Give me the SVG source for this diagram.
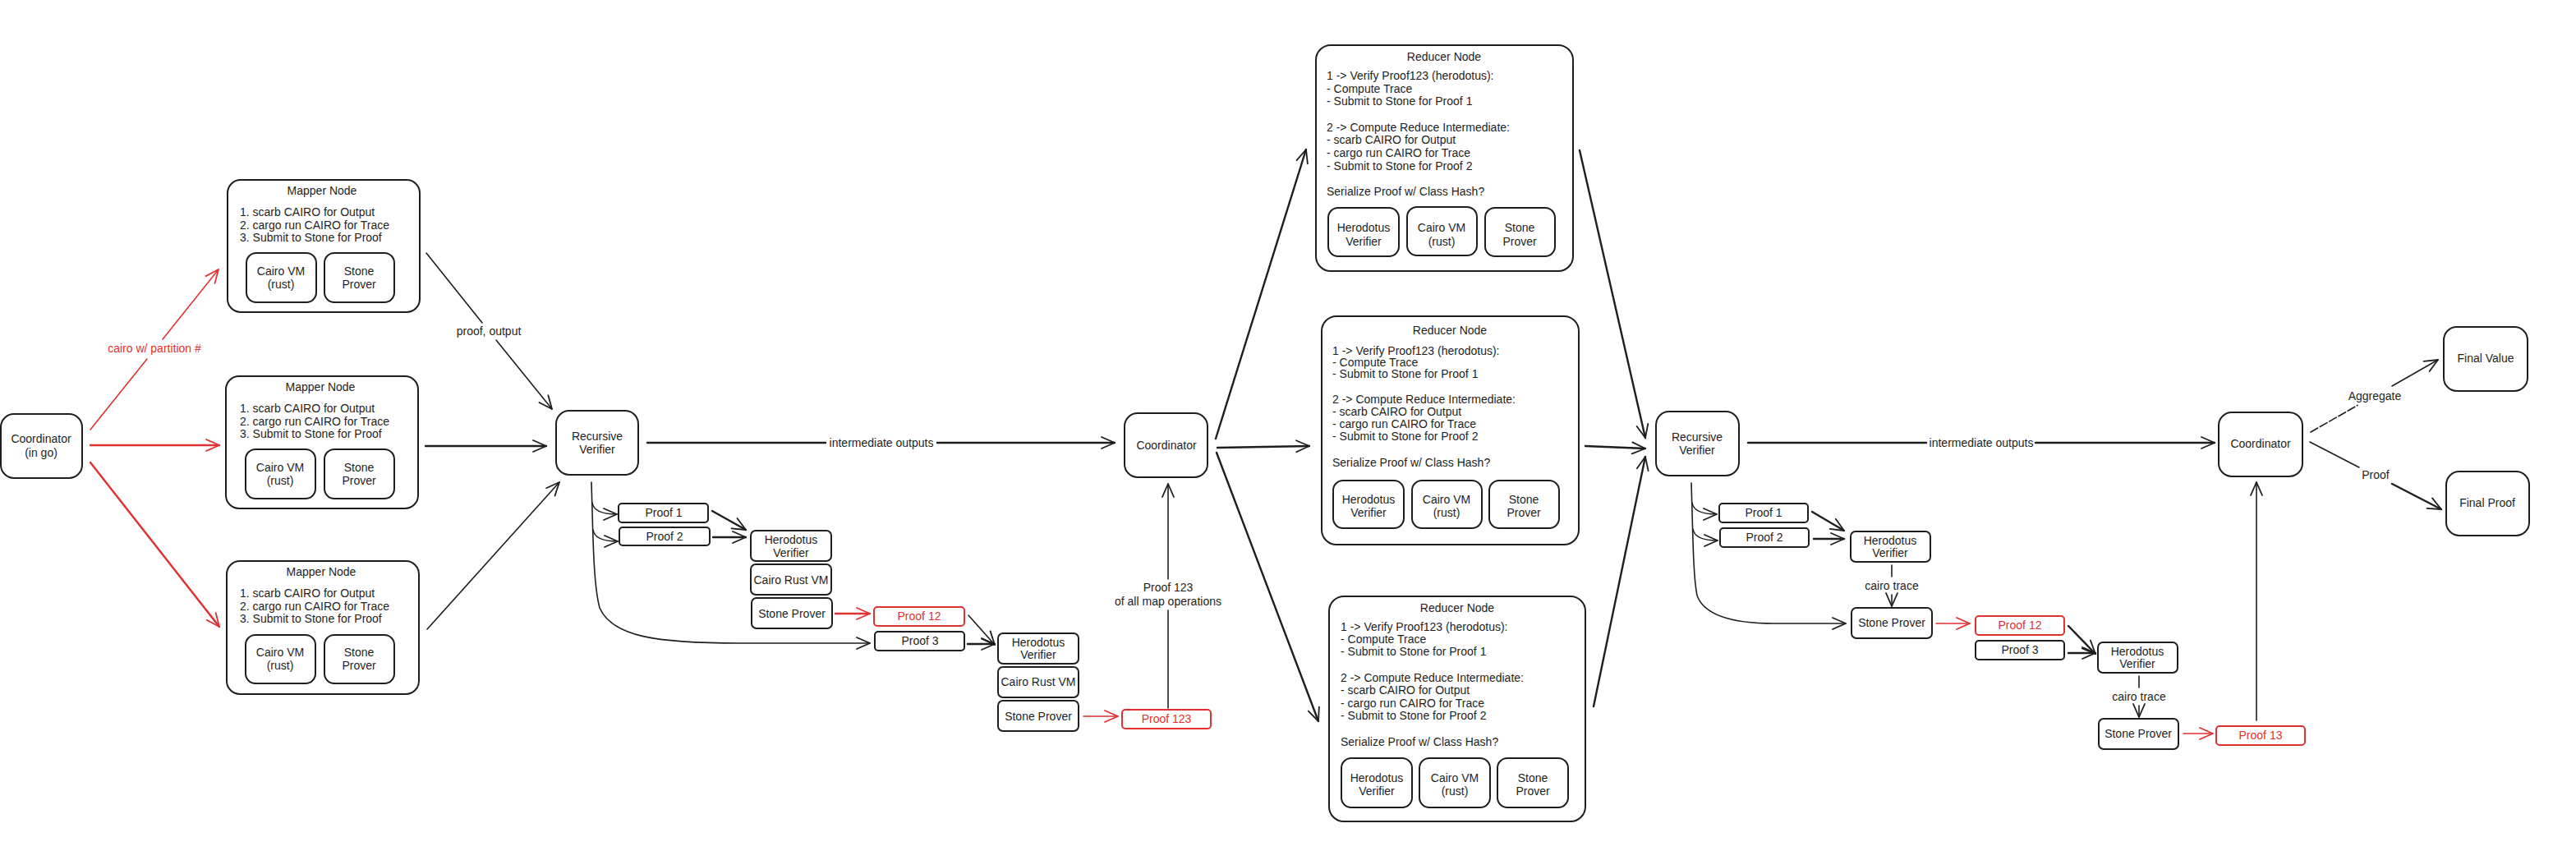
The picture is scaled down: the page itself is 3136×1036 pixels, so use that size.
<svg xmlns="http://www.w3.org/2000/svg" width="3136" height="1036" viewBox="0 0 3136 1036">
<defs>
<style>
.bg{fill:#ffffff}
.box{fill:#ffffff;stroke:#1e1e1e;stroke-width:2}
.rbox{fill:#ffffff;stroke:#e03131;stroke-width:2}
text{font-family:"Liberation Sans","DejaVu Sans",sans-serif;font-size:14px;fill:#1e1e1e;dominant-baseline:central}
.c{text-anchor:middle}
.tr{fill:#e03131}
.ln{fill:none;stroke:#1e1e1e;stroke-width:1.6;stroke-linecap:round}
.lnb{fill:none;stroke:#1e1e1e;stroke-width:2.4;stroke-linecap:round}
.lr{fill:none;stroke:#e03131;stroke-width:1.6;stroke-linecap:round}
.lrb{fill:none;stroke:#e03131;stroke-width:2.4;stroke-linecap:round}
</style>
<marker id="ah" viewBox="0 0 20 20" refX="18" refY="10" markerWidth="20" markerHeight="20" markerUnits="userSpaceOnUse" orient="auto">
<path d="M2,3 L18,10 L2,17" fill="none" stroke="#1e1e1e" stroke-width="1.8" stroke-linecap="round" stroke-linejoin="round"/>
</marker>
<marker id="ahr" viewBox="0 0 20 20" refX="18" refY="10" markerWidth="20" markerHeight="20" markerUnits="userSpaceOnUse" orient="auto">
<path d="M2,3 L18,10 L2,17" fill="none" stroke="#e03131" stroke-width="1.8" stroke-linecap="round" stroke-linejoin="round"/>
</marker>
</defs>
<rect class="bg" x="0" y="0" width="3136" height="1036"/>

<g id="connectors">
<path class="lr" d="M110,523 L179,437"/>
<path class="lr" d="M198,413 L266,328" marker-end="url(#ahr)"/>
<text class="c tr" x="188" y="424">cairo w/ partition #</text>
<path class="lrb" d="M110,542 L267,542" marker-end="url(#ahr)"/>
<path class="lrb" d="M110,563 L267,763" marker-end="url(#ahr)"/>
<path class="ln" d="M519,308 L587,393"/>
<path class="ln" d="M604,414 L672,498" marker-end="url(#ah)"/>
<text class="c" x="595" y="403">proof, output</text>
<path class="lnb" d="M518,543 L665,543" marker-end="url(#ah)"/>
<path class="ln" d="M520,766 L681,587" marker-end="url(#ah)"/>
<path class="lnb" d="M788,539 L1005,539"/>
<path class="lnb" d="M1141,539 L1357,539" marker-end="url(#ah)"/>
<text class="c" x="1073" y="539">intermediate outputs</text>
<path class="ln" d="M720,587 C722,650 722,710 730,740 C745,775 800,783 900,783 L1059,783" marker-end="url(#ah)"/>
<path class="ln" d="M721,612 Q723,626 751,626" marker-end="url(#ah)"/>
<path class="ln" d="M722,645 Q724,659 752,659" marker-end="url(#ah)"/>
<path class="lnb" d="M867,622 L908,645" marker-end="url(#ah)"/>
<path class="lnb" d="M868,654 L908,654" marker-end="url(#ah)"/>
<path class="lrb" d="M1017,747 L1059,747" marker-end="url(#ahr)"/>
<path class="ln" d="M1179,749 L1211,785" marker-end="url(#ah)"/>
<path class="lnb" d="M1178,784 L1211,784" marker-end="url(#ah)"/>
<path class="lr" d="M1319,872 L1361,872" marker-end="url(#ahr)"/>
<path class="ln" d="M1422,862 L1422,743"/>
<path class="ln" d="M1422,705 L1422,589" marker-end="url(#ah)"/>
<text class="c" x="1422" y="715">Proof 123</text>
<text class="c" x="1422" y="732">of all map operations</text>
<path class="lnb" d="M1480,534 L1590,182" marker-end="url(#ah)"/>
<path class="lnb" d="M1482,545 L1594,543" marker-end="url(#ah)"/>
<path class="lnb" d="M1481,551 L1605,878" marker-end="url(#ah)"/>
<path class="lnb" d="M1923,183 L2003,533" marker-end="url(#ah)"/>
<path class="lnb" d="M1930,543 L2003,546" marker-end="url(#ah)"/>
<path class="lnb" d="M1940,860 L2003,556" marker-end="url(#ah)"/>
<path class="lnb" d="M2128,539 L2345,539"/>
<path class="lnb" d="M2478,539 L2696,539" marker-end="url(#ah)"/>
<text class="c" x="2412" y="539">intermediate outputs</text>
<path class="ln" d="M2059,588 C2061,650 2061,700 2066,725 C2075,750 2110,759 2160,759 L2247,759" marker-end="url(#ah)"/>
<path class="ln" d="M2060,612 Q2062,626 2090,626" marker-end="url(#ah)"/>
<path class="ln" d="M2061,644 Q2063,658 2091,658" marker-end="url(#ah)"/>
<path class="lnb" d="M2206,623 L2245,646" marker-end="url(#ah)"/>
<path class="lnb" d="M2208,656 L2245,656" marker-end="url(#ah)"/>
<path class="ln" d="M2303,688 L2303,702"/>
<path class="ln" d="M2303,724 L2303,738" marker-end="url(#ah)"/>
<text class="c" x="2303" y="713">cairo trace</text>
<path class="lr" d="M2357,759 L2398,759" marker-end="url(#ahr)"/>
<path class="lnb" d="M2518,762 L2551,796" marker-end="url(#ah)"/>
<path class="lnb" d="M2518,795 L2551,795" marker-end="url(#ah)"/>
<path class="ln" d="M2604,823 L2604,837"/>
<path class="ln" d="M2604,859 L2604,873" marker-end="url(#ah)"/>
<text class="c" x="2604" y="848">cairo trace</text>
<path class="lr" d="M2658,893 L2694,893" marker-end="url(#ahr)"/>
<path class="ln" d="M2747,877 L2747,587" marker-end="url(#ah)"/>
<path class="ln" d="M2813,526 L2870,493.5" stroke-dasharray="10 3"/>
<path class="ln" d="M2912,470 L2968,438" marker-end="url(#ah)"/>
<text class="c" x="2891" y="482">Aggregate</text>
<path class="ln" d="M2812,538 L2872,569"/>
<path class="lnb" d="M2912,589 L2972,620" marker-end="url(#ah)"/>
<text class="c" x="2892" y="578">Proof</text>
</g>

<g id="coordinator-1">
<rect class="box" x="1" y="504" width="99" height="78" rx="16"/>
<text class="c" x="50" y="534">Coordinator</text>
<text class="c" x="50" y="551">(in go)</text>
</g>

<g id="mapper-1">
<rect class="box" x="277" y="219" width="234" height="161" rx="16"/>
<text class="c" x="392" y="232">Mapper Node</text>
<text x="292" y="258">1. scarb CAIRO for Output</text>
<text x="292" y="274">2. cargo run CAIRO for Trace</text>
<text x="292" y="289">3. Submit to Stone for Proof</text>
<rect class="box" x="300" y="308" width="85" height="60" rx="12"/>
<text class="c" x="342" y="330">Cairo VM</text>
<text class="c" x="342" y="346">(rust)</text>
<rect class="box" x="395" y="308" width="85" height="60" rx="12"/>
<text class="c" x="437" y="330">Stone</text>
<text class="c" x="437" y="346">Prover</text>
</g>

<g id="mapper-2">
<rect class="box" x="275" y="458" width="234" height="161" rx="16"/>
<text class="c" x="390" y="471">Mapper Node</text>
<text x="292" y="497">1. scarb CAIRO for Output</text>
<text x="292" y="513">2. cargo run CAIRO for Trace</text>
<text x="292" y="528">3. Submit to Stone for Proof</text>
<rect class="box" x="299" y="547" width="85" height="60" rx="12"/>
<text class="c" x="341" y="569">Cairo VM</text>
<text class="c" x="341" y="585">(rust)</text>
<rect class="box" x="395" y="547" width="85" height="60" rx="12"/>
<text class="c" x="437" y="569">Stone</text>
<text class="c" x="437" y="585">Prover</text>
</g>

<g id="mapper-3">
<rect class="box" x="276" y="683" width="234" height="162" rx="16"/>
<text class="c" x="391" y="696">Mapper Node</text>
<text x="292" y="722">1. scarb CAIRO for Output</text>
<text x="292" y="738">2. cargo run CAIRO for Trace</text>
<text x="292" y="753">3. Submit to Stone for Proof</text>
<rect class="box" x="299" y="773" width="85" height="59" rx="12"/>
<text class="c" x="341" y="794">Cairo VM</text>
<text class="c" x="341" y="810">(rust)</text>
<rect class="box" x="395" y="773" width="85" height="59" rx="12"/>
<text class="c" x="437" y="794">Stone</text>
<text class="c" x="437" y="810">Prover</text>
</g>

<g id="recursive-verifier-1">
<rect class="box" x="677" y="500" width="100" height="78" rx="16"/>
<text class="c" x="727" y="531">Recursive</text>
<text class="c" x="727" y="547">Verifier</text>
</g>

<g id="proof1-a"><rect class="box" x="753" y="613" width="109" height="23" rx="4"/><text class="c" x="808" y="624">Proof 1</text></g>
<g id="proof2-a"><rect class="box" x="754" y="642" width="110" height="22" rx="4"/><text class="c" x="809" y="653">Proof 2</text></g>
<g id="herodotus-a"><rect class="box" x="914" y="646" width="98" height="37" rx="6"/><text class="c" x="963" y="657">Herodotus</text><text class="c" x="963" y="673">Verifier</text></g>
<g id="cairo-rust-vm-a"><rect class="box" x="914" y="687" width="98" height="37" rx="6"/><text class="c" x="963" y="706">Cairo Rust VM</text></g>
<g id="stone-prover-a"><rect class="box" x="915" y="728" width="98" height="37" rx="6"/><text class="c" x="964" y="747">Stone Prover</text></g>
<g id="proof12-a"><rect class="rbox" x="1064" y="739" width="110" height="23" rx="4"/><text class="c tr" x="1119" y="750">Proof 12</text></g>
<g id="proof3-a"><rect class="box" x="1065" y="769" width="109" height="23" rx="4"/><text class="c" x="1120" y="780">Proof 3</text></g>
<g id="herodotus-b"><rect class="box" x="1215" y="771" width="98" height="37" rx="6"/><text class="c" x="1264" y="782">Herodotus</text><text class="c" x="1264" y="797">Verifier</text></g>
<g id="cairo-rust-vm-b"><rect class="box" x="1215" y="812" width="98" height="37" rx="6"/><text class="c" x="1264" y="830">Cairo Rust VM</text></g>
<g id="stone-prover-b"><rect class="box" x="1215" y="853" width="98" height="37" rx="6"/><text class="c" x="1264" y="872">Stone Prover</text></g>
<g id="proof123"><rect class="rbox" x="1366" y="864" width="108" height="23" rx="4"/><text class="c tr" x="1420" y="875">Proof 123</text></g>

<g id="coordinator-2">
<rect class="box" x="1369" y="503" width="101" height="78" rx="16"/>
<text class="c" x="1420" y="542">Coordinator</text>
</g>

<g id="reducer-1">
<rect class="box" x="1602" y="55" width="313" height="275" rx="18"/>
<text class="c" x="1758" y="69">Reducer Node</text>
<text x="1615" y="92">1 -&gt; Verify Proof123 (herodotus):</text>
<text x="1615" y="108">- Compute Trace</text>
<text x="1615" y="123">- Submit to Stone for Proof 1</text>
<text x="1615" y="155">2 -&gt; Compute Reduce Intermediate:</text>
<text x="1615" y="170">- scarb CAIRO for Output</text>
<text x="1615" y="186">- cargo run CAIRO for Trace</text>
<text x="1615" y="202">- Submit to Stone for Proof 2</text>
<text x="1615" y="233">Serialize Proof w/ Class Hash?</text>
<rect class="box" x="1617" y="253" width="86" height="59" rx="12"/>
<text class="c" x="1660" y="277">Herodotus</text><text class="c" x="1660" y="294">Verifier</text>
<rect class="box" x="1713" y="252" width="85" height="59" rx="12"/>
<text class="c" x="1755" y="277">Cairo VM</text><text class="c" x="1755" y="294">(rust)</text>
<rect class="box" x="1808" y="253" width="85" height="59" rx="12"/>
<text class="c" x="1850" y="277">Stone</text><text class="c" x="1850" y="294">Prover</text>
</g>

<g id="reducer-2">
<rect class="box" x="1609" y="385" width="313" height="278" rx="18"/>
<text class="c" x="1765" y="402">Reducer Node</text>
<text x="1622" y="427">1 -&gt; Verify Proof123 (herodotus):</text>
<text x="1622" y="441">- Compute Trace</text>
<text x="1622" y="455">- Submit to Stone for Proof 1</text>
<text x="1622" y="486">2 -&gt; Compute Reduce Intermediate:</text>
<text x="1622" y="501">- scarb CAIRO for Output</text>
<text x="1622" y="516">- cargo run CAIRO for Trace</text>
<text x="1622" y="531">- Submit to Stone for Proof 2</text>
<text x="1622" y="563">Serialize Proof w/ Class Hash?</text>
<rect class="box" x="1623" y="585" width="86" height="58" rx="12"/>
<text class="c" x="1666" y="608">Herodotus</text><text class="c" x="1666" y="624">Verifier</text>
<rect class="box" x="1719" y="585" width="85" height="58" rx="12"/>
<text class="c" x="1761" y="608">Cairo VM</text><text class="c" x="1761" y="624">(rust)</text>
<rect class="box" x="1813" y="585" width="85" height="58" rx="12"/>
<text class="c" x="1855" y="608">Stone</text><text class="c" x="1855" y="624">Prover</text>
</g>

<g id="reducer-3">
<rect class="box" x="1618" y="726" width="312" height="274" rx="18"/>
<text class="c" x="1774" y="740">Reducer Node</text>
<text x="1632" y="763">1 -&gt; Verify Proof123 (herodotus):</text>
<text x="1632" y="778">- Compute Trace</text>
<text x="1632" y="793">- Submit to Stone for Proof 1</text>
<text x="1632" y="825">2 -&gt; Compute Reduce Intermediate:</text>
<text x="1632" y="840">- scarb CAIRO for Output</text>
<text x="1632" y="856">- cargo run CAIRO for Trace</text>
<text x="1632" y="871">- Submit to Stone for Proof 2</text>
<text x="1632" y="903">Serialize Proof w/ Class Hash?</text>
<rect class="box" x="1633" y="923" width="86" height="60" rx="12"/>
<text class="c" x="1676" y="947">Herodotus</text><text class="c" x="1676" y="963">Verifier</text>
<rect class="box" x="1728" y="923" width="86" height="60" rx="12"/>
<text class="c" x="1771" y="947">Cairo VM</text><text class="c" x="1771" y="963">(rust)</text>
<rect class="box" x="1823" y="923" width="86" height="60" rx="12"/>
<text class="c" x="1866" y="947">Stone</text><text class="c" x="1866" y="963">Prover</text>
</g>

<g id="recursive-verifier-2">
<rect class="box" x="2016" y="501" width="101" height="78" rx="16"/>
<text class="c" x="2066" y="532">Recursive</text>
<text class="c" x="2066" y="548">Verifier</text>
</g>

<g id="proof1-b"><rect class="box" x="2093" y="613" width="108" height="23" rx="4"/><text class="c" x="2147" y="624">Proof 1</text></g>
<g id="proof2-b"><rect class="box" x="2094" y="643" width="108" height="23" rx="4"/><text class="c" x="2148" y="654">Proof 2</text></g>
<g id="herodotus-c"><rect class="box" x="2253" y="647" width="97" height="37" rx="6"/><text class="c" x="2301" y="658">Herodotus</text><text class="c" x="2301" y="673">Verifier</text></g>
<g id="stone-prover-c"><rect class="box" x="2254" y="740" width="98" height="37" rx="6"/><text class="c" x="2303" y="758">Stone Prover</text></g>
<g id="proof12-b"><rect class="rbox" x="2405" y="750" width="108" height="23" rx="4"/><text class="c tr" x="2459" y="761">Proof 12</text></g>
<g id="proof3-b"><rect class="box" x="2405" y="780" width="108" height="23" rx="4"/><text class="c" x="2459" y="791">Proof 3</text></g>
<g id="herodotus-d"><rect class="box" x="2554" y="782" width="97" height="37" rx="6"/><text class="c" x="2602" y="793">Herodotus</text><text class="c" x="2602" y="808">Verifier</text></g>
<g id="stone-prover-d"><rect class="box" x="2555" y="875" width="97" height="37" rx="6"/><text class="c" x="2603" y="893">Stone Prover</text></g>
<g id="proof13"><rect class="rbox" x="2698" y="884" width="108" height="23" rx="4"/><text class="c tr" x="2752" y="895">Proof 13</text></g>

<g id="coordinator-3">
<rect class="box" x="2701" y="502" width="102" height="78" rx="16"/>
<text class="c" x="2752" y="540">Coordinator</text>
</g>

<g id="final-value">
<rect class="box" x="2975" y="398" width="102" height="78" rx="16"/>
<text class="c" x="3026" y="436">Final Value</text>
</g>

<g id="final-proof">
<rect class="box" x="2978" y="574" width="101" height="78" rx="16"/>
<text class="c" x="3028" y="612">Final Proof</text>
</g>
</svg>
